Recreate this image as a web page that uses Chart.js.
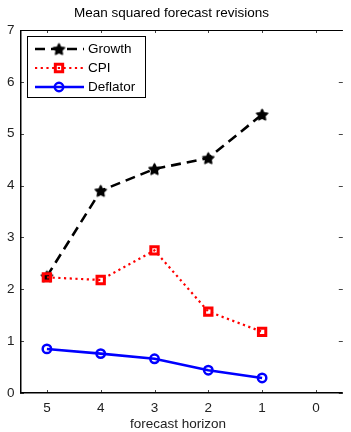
<!DOCTYPE html>
<html>
<head>
<meta charset="utf-8">
<script src="https://cdn.jsdelivr.net/npm/chart.js@4/dist/chart.umd.min.js"></script>
<style>
  html, body { margin: 0; padding: 0; background: #fff; }
  #wrap { width: 351px; height: 432px; }
</style>
</head>
<body>
<div id="wrap"><canvas id="c" width="351" height="432"></canvas></div>
<script>
// Forecast horizons (x) and mean squared revisions per series
const horizons = [5, 4, 3, 2, 1];
const growth   = [2.25, 3.90, 4.32, 4.53, 5.37];
const cpi      = [2.23, 2.18, 2.75, 1.57, 1.18];
const deflator = [0.85, 0.76, 0.66, 0.44, 0.29];
const xTicks = [5, 4, 3, 2, 1, 0];
const yTicks = [0, 1, 2, 3, 4, 5, 6, 7];
const titleText = 'Mean squared forecast revisions';
const xLabel = 'forecast horizon';
const seriesNames = ['Growth', 'CPI', 'Deflator'];

const FONT = '"Liberation Sans", Arial, sans-serif';
const FS = 13.5;

// Filled five-pointed star used as the Growth marker
function makeStar(r) {
  const s = Math.ceil(r * 2 + 3);
  const c = document.createElement('canvas');
  c.width = s; c.height = s;
  const g = c.getContext('2d');
  g.fillStyle = '#000';
  g.strokeStyle = '#000';
  g.lineWidth = 1.5;
  g.lineJoin = 'round';
  g.beginPath();
  for (let i = 0; i < 10; i++) {
    const a = -Math.PI / 2 + i * Math.PI / 5;
    const rr = i % 2 ? r * 0.5 : r;
    g.lineTo(s / 2 + rr * Math.cos(a), s / 2 + 0.6 + rr * Math.sin(a));
  }
  g.closePath();
  g.fill();
  g.stroke();
  return c;
}
const starImg = makeStar(5.8);

const toPoints = vals => horizons.map((h, i) => ({ x: h, y: vals[i] }));

// Frame, inward ticks, title, axis label and boxed legend
const decor = {
  id: 'decor',
  afterDraw(chart) {
    const ctx = chart.ctx;
    const a = chart.chartArea;
    const xs = chart.scales.x, ys = chart.scales.y;
    ctx.save();

    // inward tick marks on all four sides
    ctx.strokeStyle = '#444';
    ctx.lineWidth = 1;
    ctx.beginPath();
    xTicks.forEach(v => {
      const px = Math.round(xs.getPixelForValue(v)) + 0.5;
      ctx.moveTo(px, a.bottom); ctx.lineTo(px, a.bottom - 3);
      ctx.moveTo(px, a.top); ctx.lineTo(px, a.top + 3);
    });
    yTicks.forEach(v => {
      const py = Math.round(ys.getPixelForValue(v)) + 0.5;
      ctx.moveTo(a.left, py); ctx.lineTo(a.left + 4, py);
      ctx.moveTo(a.right, py); ctx.lineTo(a.right - 4, py);
    });
    ctx.stroke();

    // axis frame
    ctx.strokeStyle = '#000';
    ctx.lineWidth = 1.5;
    ctx.beginPath();
    ctx.moveTo(a.left + 0.75, a.top);
    ctx.lineTo(a.left + 0.75, a.bottom - 0.25);
    ctx.lineTo(a.right, a.bottom - 0.25);
    ctx.stroke();
    ctx.lineWidth = 1;
    ctx.beginPath();
    ctx.moveTo(a.left, a.top + 0.5);
    ctx.lineTo(a.right, a.top + 0.5);
    ctx.stroke();

    // title and x-axis label
    ctx.fillStyle = '#000';
    ctx.font = FS + 'px ' + FONT;
    ctx.textAlign = 'center';
    ctx.textBaseline = 'middle';
    ctx.fillText(titleText, 171.5, 13);
    ctx.fillStyle = '#222';
    ctx.fillText(xLabel, 178, 424.5);

    // legend box
    const bx = 27.5, by = 36.5, bw = 118, bh = 61;
    ctx.fillStyle = '#fff';
    ctx.fillRect(bx, by, bw, bh);
    ctx.strokeStyle = '#000';
    ctx.lineWidth = 1;
    ctx.strokeRect(bx, by, bw, bh);
    const rows = [49, 68, 87];
    chart.data.datasets.forEach((ds, i) => {
      const y = rows[i];
      ctx.save();
      ctx.strokeStyle = ds.borderColor;
      ctx.lineWidth = ds.borderWidth;
      ctx.setLineDash(ds.borderDash || []);
      ctx.beginPath();
      ctx.moveTo(35, y);
      ctx.lineTo(84, y);
      ctx.stroke();
      ctx.restore();
      ctx.save();
      ctx.strokeStyle = ds.pointBorderColor;
      ctx.fillStyle = ds.pointBackgroundColor;
      ctx.lineWidth = ds.pointBorderWidth;
      Chart.helpers.drawPoint(ctx, {
        pointStyle: ds.pointStyle,
        radius: ds.pointRadius,
        borderWidth: ds.pointBorderWidth,
        rotation: 0
      }, 59, y);
      ctx.restore();
      ctx.fillStyle = '#000';
      ctx.font = FS + 'px ' + FONT;
      ctx.textAlign = 'left';
      ctx.textBaseline = 'middle';
      ctx.fillText(ds.label, 88, y + 0.5);
    });
    ctx.restore();
  }
};

new Chart(document.getElementById('c'), {
  type: 'line',
  data: {
    datasets: [
      {
        label: seriesNames[0],
        data: toPoints(growth),
        borderColor: '#000',
        borderWidth: 2.6,
        borderDash: [10, 6],
        pointStyle: starImg,
        pointRadius: 6,
        pointBorderWidth: 0,
        pointBorderColor: '#000',
        pointBackgroundColor: '#000',
        order: 2
      },
      {
        label: seriesNames[1],
        data: toPoints(cpi),
        borderColor: '#ff0000',
        borderWidth: 2.2,
        borderDash: [2.2, 3.5],
        pointStyle: 'rect',
        pointRadius: 5.2,
        pointBorderWidth: 3,
        pointBorderColor: '#ff0000',
        pointBackgroundColor: 'rgba(0,0,0,0)',
        order: 1
      },
      {
        label: seriesNames[2],
        data: toPoints(deflator),
        borderColor: '#0000ff',
        borderWidth: 2.6,
        pointStyle: 'circle',
        pointRadius: 4.2,
        pointBorderWidth: 2.5,
        pointBorderColor: '#0000ff',
        pointBackgroundColor: 'rgba(0,0,0,0)',
        order: 0
      }
    ]
  },
  options: {
    responsive: false,
    animation: false,
    devicePixelRatio: 1,
    events: [],
    layout: { padding: { top: 30, left: 0, right: 0, bottom: 0 } },
    plugins: {
      legend: { display: false },
      title: { display: false },
      tooltip: { enabled: false }
    },
    scales: {
      x: {
        type: 'linear',
        reverse: true,
        min: -0.5,
        max: 5.5,
        afterBuildTicks: s => { s.ticks = xTicks.map(v => ({ value: v })); },
        afterFit: s => { s.height = 39; },
        grid: { display: false, drawTicks: false },
        border: { display: false },
        ticks: {
          padding: 7,
          color: '#222',
          font: { family: FONT, size: FS },
          maxRotation: 0,
          callback: v => String(v)
        }
      },
      y: {
        min: 0,
        max: 7,
        afterBuildTicks: s => { s.ticks = yTicks.map(v => ({ value: v })); },
        afterFit: s => { s.width = 20; },
        grid: { display: false, drawTicks: false },
        border: { display: false },
        ticks: {
          padding: 5.5,
          color: '#222',
          font: { family: FONT, size: FS },
          callback: v => String(v)
        }
      }
    }
  },
  plugins: [decor]
});
</script>
</body>
</html>
